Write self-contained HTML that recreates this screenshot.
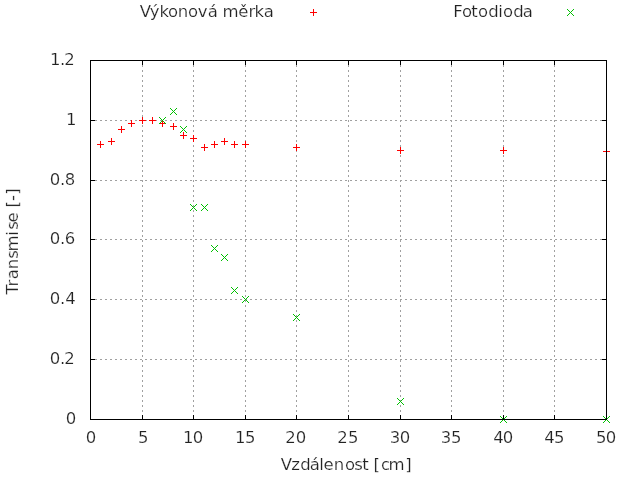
<!DOCTYPE html>
<html lang="cs"><head><meta charset="utf-8"><title>Transmise</title>
<style>
html,body{margin:0;padding:0;background:#fff;overflow:hidden}
svg{display:block}
text{font-family:"DejaVu Sans","Liberation Sans",sans-serif;font-size:16.5px;fill:#222;stroke:#fff;stroke-width:0.2px}
.g{stroke:#a0a0a0;stroke-width:1;stroke-dasharray:2 3;fill:none}
.r{fill:#f00}.v{fill:#00c000}.k{fill:#000}
</style></head><body>
<svg width="640" height="480" viewBox="0 0 640 480" shape-rendering="crispEdges">
<rect width="640" height="480" fill="#fff"/>
<g class="g">
<line x1="90" y1="359.5" x2="607" y2="359.5"/>
<line x1="90" y1="299.5" x2="607" y2="299.5"/>
<line x1="90" y1="239.5" x2="607" y2="239.5"/>
<line x1="90" y1="180.5" x2="607" y2="180.5"/>
<line x1="90" y1="120.5" x2="607" y2="120.5"/>
<line x1="142.5" y1="60" x2="142.5" y2="420"/>
<line x1="193.5" y1="60" x2="193.5" y2="420"/>
<line x1="245.5" y1="60" x2="245.5" y2="420"/>
<line x1="296.5" y1="60" x2="296.5" y2="420"/>
<line x1="348.5" y1="60" x2="348.5" y2="420"/>
<line x1="400.5" y1="60" x2="400.5" y2="420"/>
<line x1="451.5" y1="60" x2="451.5" y2="420"/>
<line x1="503.5" y1="60" x2="503.5" y2="420"/>
<line x1="554.5" y1="60" x2="554.5" y2="420"/>
</g>
<g class="r">
<rect x="310" y="12" width="7" height="1"/><rect x="313" y="9" width="1" height="7"/>
<rect x="97" y="144" width="7" height="1"/><rect x="100" y="141" width="1" height="7"/>
<rect x="108" y="141" width="7" height="1"/><rect x="111" y="138" width="1" height="7"/>
<rect x="118" y="129" width="7" height="1"/><rect x="121" y="126" width="1" height="7"/>
<rect x="128" y="123" width="7" height="1"/><rect x="131" y="120" width="1" height="7"/>
<rect x="139" y="120" width="7" height="1"/><rect x="142" y="117" width="1" height="7"/>
<rect x="149" y="120" width="7" height="1"/><rect x="152" y="117" width="1" height="7"/>
<rect x="159" y="123" width="7" height="1"/><rect x="162" y="120" width="1" height="7"/>
<rect x="170" y="126" width="7" height="1"/><rect x="173" y="123" width="1" height="7"/>
<rect x="180" y="135" width="7" height="1"/><rect x="183" y="132" width="1" height="7"/>
<rect x="190" y="138" width="7" height="1"/><rect x="193" y="135" width="1" height="7"/>
<rect x="201" y="147" width="7" height="1"/><rect x="204" y="144" width="1" height="7"/>
<rect x="211" y="144" width="7" height="1"/><rect x="214" y="141" width="1" height="7"/>
<rect x="221" y="141" width="7" height="1"/><rect x="224" y="138" width="1" height="7"/>
<rect x="231" y="144" width="7" height="1"/><rect x="234" y="141" width="1" height="7"/>
<rect x="242" y="144" width="7" height="1"/><rect x="245" y="141" width="1" height="7"/>
<rect x="293" y="147" width="7" height="1"/><rect x="296" y="144" width="1" height="7"/>
<rect x="397" y="150" width="7" height="1"/><rect x="400" y="147" width="1" height="7"/>
<rect x="500" y="150" width="7" height="1"/><rect x="503" y="147" width="1" height="7"/>
<rect x="603" y="151" width="7" height="1"/><rect x="606" y="148" width="1" height="7"/>
</g>
<g class="v">
<rect x="567" y="9" width="1" height="1"/><rect x="567" y="15" width="1" height="1"/><rect x="568" y="10" width="1" height="1"/><rect x="568" y="14" width="1" height="1"/><rect x="569" y="11" width="1" height="1"/><rect x="569" y="13" width="1" height="1"/><rect x="570" y="12" width="1" height="1"/><rect x="571" y="13" width="1" height="1"/><rect x="571" y="11" width="1" height="1"/><rect x="572" y="14" width="1" height="1"/><rect x="572" y="10" width="1" height="1"/><rect x="573" y="15" width="1" height="1"/><rect x="573" y="9" width="1" height="1"/>
<rect x="159" y="117" width="1" height="1"/><rect x="159" y="123" width="1" height="1"/><rect x="160" y="118" width="1" height="1"/><rect x="160" y="122" width="1" height="1"/><rect x="161" y="119" width="1" height="1"/><rect x="161" y="121" width="1" height="1"/><rect x="162" y="120" width="1" height="1"/><rect x="163" y="121" width="1" height="1"/><rect x="163" y="119" width="1" height="1"/><rect x="164" y="122" width="1" height="1"/><rect x="164" y="118" width="1" height="1"/><rect x="165" y="123" width="1" height="1"/><rect x="165" y="117" width="1" height="1"/>
<rect x="170" y="108" width="1" height="1"/><rect x="170" y="114" width="1" height="1"/><rect x="171" y="109" width="1" height="1"/><rect x="171" y="113" width="1" height="1"/><rect x="172" y="110" width="1" height="1"/><rect x="172" y="112" width="1" height="1"/><rect x="173" y="111" width="1" height="1"/><rect x="174" y="112" width="1" height="1"/><rect x="174" y="110" width="1" height="1"/><rect x="175" y="113" width="1" height="1"/><rect x="175" y="109" width="1" height="1"/><rect x="176" y="114" width="1" height="1"/><rect x="176" y="108" width="1" height="1"/>
<rect x="180" y="126" width="1" height="1"/><rect x="180" y="132" width="1" height="1"/><rect x="181" y="127" width="1" height="1"/><rect x="181" y="131" width="1" height="1"/><rect x="182" y="128" width="1" height="1"/><rect x="182" y="130" width="1" height="1"/><rect x="183" y="129" width="1" height="1"/><rect x="184" y="130" width="1" height="1"/><rect x="184" y="128" width="1" height="1"/><rect x="185" y="131" width="1" height="1"/><rect x="185" y="127" width="1" height="1"/><rect x="186" y="132" width="1" height="1"/><rect x="186" y="126" width="1" height="1"/>
<rect x="190" y="204" width="1" height="1"/><rect x="190" y="210" width="1" height="1"/><rect x="191" y="205" width="1" height="1"/><rect x="191" y="209" width="1" height="1"/><rect x="192" y="206" width="1" height="1"/><rect x="192" y="208" width="1" height="1"/><rect x="193" y="207" width="1" height="1"/><rect x="194" y="208" width="1" height="1"/><rect x="194" y="206" width="1" height="1"/><rect x="195" y="209" width="1" height="1"/><rect x="195" y="205" width="1" height="1"/><rect x="196" y="210" width="1" height="1"/><rect x="196" y="204" width="1" height="1"/>
<rect x="201" y="204" width="1" height="1"/><rect x="201" y="210" width="1" height="1"/><rect x="202" y="205" width="1" height="1"/><rect x="202" y="209" width="1" height="1"/><rect x="203" y="206" width="1" height="1"/><rect x="203" y="208" width="1" height="1"/><rect x="204" y="207" width="1" height="1"/><rect x="205" y="208" width="1" height="1"/><rect x="205" y="206" width="1" height="1"/><rect x="206" y="209" width="1" height="1"/><rect x="206" y="205" width="1" height="1"/><rect x="207" y="210" width="1" height="1"/><rect x="207" y="204" width="1" height="1"/>
<rect x="211" y="245" width="1" height="1"/><rect x="211" y="251" width="1" height="1"/><rect x="212" y="246" width="1" height="1"/><rect x="212" y="250" width="1" height="1"/><rect x="213" y="247" width="1" height="1"/><rect x="213" y="249" width="1" height="1"/><rect x="214" y="248" width="1" height="1"/><rect x="215" y="249" width="1" height="1"/><rect x="215" y="247" width="1" height="1"/><rect x="216" y="250" width="1" height="1"/><rect x="216" y="246" width="1" height="1"/><rect x="217" y="251" width="1" height="1"/><rect x="217" y="245" width="1" height="1"/>
<rect x="221" y="254" width="1" height="1"/><rect x="221" y="260" width="1" height="1"/><rect x="222" y="255" width="1" height="1"/><rect x="222" y="259" width="1" height="1"/><rect x="223" y="256" width="1" height="1"/><rect x="223" y="258" width="1" height="1"/><rect x="224" y="257" width="1" height="1"/><rect x="225" y="258" width="1" height="1"/><rect x="225" y="256" width="1" height="1"/><rect x="226" y="259" width="1" height="1"/><rect x="226" y="255" width="1" height="1"/><rect x="227" y="260" width="1" height="1"/><rect x="227" y="254" width="1" height="1"/>
<rect x="231" y="287" width="1" height="1"/><rect x="231" y="293" width="1" height="1"/><rect x="232" y="288" width="1" height="1"/><rect x="232" y="292" width="1" height="1"/><rect x="233" y="289" width="1" height="1"/><rect x="233" y="291" width="1" height="1"/><rect x="234" y="290" width="1" height="1"/><rect x="235" y="291" width="1" height="1"/><rect x="235" y="289" width="1" height="1"/><rect x="236" y="292" width="1" height="1"/><rect x="236" y="288" width="1" height="1"/><rect x="237" y="293" width="1" height="1"/><rect x="237" y="287" width="1" height="1"/>
<rect x="242" y="296" width="1" height="1"/><rect x="242" y="302" width="1" height="1"/><rect x="243" y="297" width="1" height="1"/><rect x="243" y="301" width="1" height="1"/><rect x="244" y="298" width="1" height="1"/><rect x="244" y="300" width="1" height="1"/><rect x="245" y="299" width="1" height="1"/><rect x="246" y="300" width="1" height="1"/><rect x="246" y="298" width="1" height="1"/><rect x="247" y="301" width="1" height="1"/><rect x="247" y="297" width="1" height="1"/><rect x="248" y="302" width="1" height="1"/><rect x="248" y="296" width="1" height="1"/>
<rect x="293" y="314" width="1" height="1"/><rect x="293" y="320" width="1" height="1"/><rect x="294" y="315" width="1" height="1"/><rect x="294" y="319" width="1" height="1"/><rect x="295" y="316" width="1" height="1"/><rect x="295" y="318" width="1" height="1"/><rect x="296" y="317" width="1" height="1"/><rect x="297" y="318" width="1" height="1"/><rect x="297" y="316" width="1" height="1"/><rect x="298" y="319" width="1" height="1"/><rect x="298" y="315" width="1" height="1"/><rect x="299" y="320" width="1" height="1"/><rect x="299" y="314" width="1" height="1"/>
<rect x="397" y="398" width="1" height="1"/><rect x="397" y="404" width="1" height="1"/><rect x="398" y="399" width="1" height="1"/><rect x="398" y="403" width="1" height="1"/><rect x="399" y="400" width="1" height="1"/><rect x="399" y="402" width="1" height="1"/><rect x="400" y="401" width="1" height="1"/><rect x="401" y="402" width="1" height="1"/><rect x="401" y="400" width="1" height="1"/><rect x="402" y="403" width="1" height="1"/><rect x="402" y="399" width="1" height="1"/><rect x="403" y="404" width="1" height="1"/><rect x="403" y="398" width="1" height="1"/>
<rect x="500" y="416" width="1" height="1"/><rect x="500" y="422" width="1" height="1"/><rect x="501" y="417" width="1" height="1"/><rect x="501" y="421" width="1" height="1"/><rect x="502" y="418" width="1" height="1"/><rect x="502" y="420" width="1" height="1"/><rect x="503" y="419" width="1" height="1"/><rect x="504" y="420" width="1" height="1"/><rect x="504" y="418" width="1" height="1"/><rect x="505" y="421" width="1" height="1"/><rect x="505" y="417" width="1" height="1"/><rect x="506" y="422" width="1" height="1"/><rect x="506" y="416" width="1" height="1"/>
<rect x="603" y="416" width="1" height="1"/><rect x="603" y="422" width="1" height="1"/><rect x="604" y="417" width="1" height="1"/><rect x="604" y="421" width="1" height="1"/><rect x="605" y="418" width="1" height="1"/><rect x="605" y="420" width="1" height="1"/><rect x="606" y="419" width="1" height="1"/><rect x="607" y="420" width="1" height="1"/><rect x="607" y="418" width="1" height="1"/><rect x="608" y="421" width="1" height="1"/><rect x="608" y="417" width="1" height="1"/><rect x="609" y="422" width="1" height="1"/><rect x="609" y="416" width="1" height="1"/>
</g>
<g class="k">
<rect x="90" y="60" width="517" height="1"/>
<rect x="90" y="419" width="517" height="1"/>
<rect x="90" y="60" width="1" height="360"/>
<rect x="606" y="60" width="1" height="360"/>
<rect x="142" y="415" width="1" height="5"/><rect x="142" y="60" width="1" height="5"/>
<rect x="193" y="415" width="1" height="5"/><rect x="193" y="60" width="1" height="5"/>
<rect x="245" y="415" width="1" height="5"/><rect x="245" y="60" width="1" height="5"/>
<rect x="296" y="415" width="1" height="5"/><rect x="296" y="60" width="1" height="5"/>
<rect x="348" y="415" width="1" height="5"/><rect x="348" y="60" width="1" height="5"/>
<rect x="400" y="415" width="1" height="5"/><rect x="400" y="60" width="1" height="5"/>
<rect x="451" y="415" width="1" height="5"/><rect x="451" y="60" width="1" height="5"/>
<rect x="503" y="415" width="1" height="5"/><rect x="503" y="60" width="1" height="5"/>
<rect x="554" y="415" width="1" height="5"/><rect x="554" y="60" width="1" height="5"/>
<rect x="90" y="359" width="5" height="1"/><rect x="602" y="359" width="5" height="1"/>
<rect x="90" y="299" width="5" height="1"/><rect x="602" y="299" width="5" height="1"/>
<rect x="90" y="239" width="5" height="1"/><rect x="602" y="239" width="5" height="1"/>
<rect x="90" y="180" width="5" height="1"/><rect x="602" y="180" width="5" height="1"/>
<rect x="90" y="120" width="5" height="1"/><rect x="602" y="120" width="5" height="1"/>
</g>
<mask id="m"><rect width="640" height="480" fill="#fff"/></mask>
<g mask="url(#m)" shape-rendering="auto">
<text x="139.85 149.85 159.58 167.93 177.65 187.93 197.72 207.8 217.22 222.46 238.37 248.44 254.58 263.69" y="17.0">Výkonová měrka</text>
<text x="453.31 461.93 471.22 477.93 488.14 498.24 502.93 513.14 522.69" y="17.0">Fotodioda</text>
<text x="49.97 59.88 64.25" y="65.0">1.2</text>
<text x="65.97" y="125.0">1</text>
<text x="49.66 59.88 64.74" y="185.0">0.8</text>
<text x="49.66 59.88 64.67" y="244.0">0.6</text>
<text x="49.66 59.88 65.3" y="304.0">0.4</text>
<text x="49.66 59.88 64.25" y="364.0">0.2</text>
<text x="65.66" y="424.0">0</text>
<text x="85.66" y="443.0">0</text>
<text x="137.98" y="443.0">5</text>
<text x="182.97 192.66" y="443.0">10</text>
<text x="234.97 244.98" y="443.0">15</text>
<text x="285.25 295.66" y="443.0">20</text>
<text x="337.25 347.98" y="443.0">25</text>
<text x="389.87 399.66" y="443.0">30</text>
<text x="440.87 450.98" y="443.0">35</text>
<text x="493.3 502.66" y="443.0">40</text>
<text x="544.3 553.98" y="443.0">45</text>
<text x="595.98 605.66" y="443.0">50</text>
<text x="280.85 291.18 300.14 309.8 319.27 323.4 333.65 344.93 354.2 362.22 368.15 373.4 381.01 388.46 405.24" y="470.0">Vzdálenost [cm]</text>
<text transform="translate(17.92,294.0) rotate(-90)" x="-0.55 7.44 14.69 24.65 35.2 42.46 58.24 64.2 71.4 81.15 86.4 93.02 99.24" y="0">Transmise [-]</text>
</g>
</svg></body></html>
